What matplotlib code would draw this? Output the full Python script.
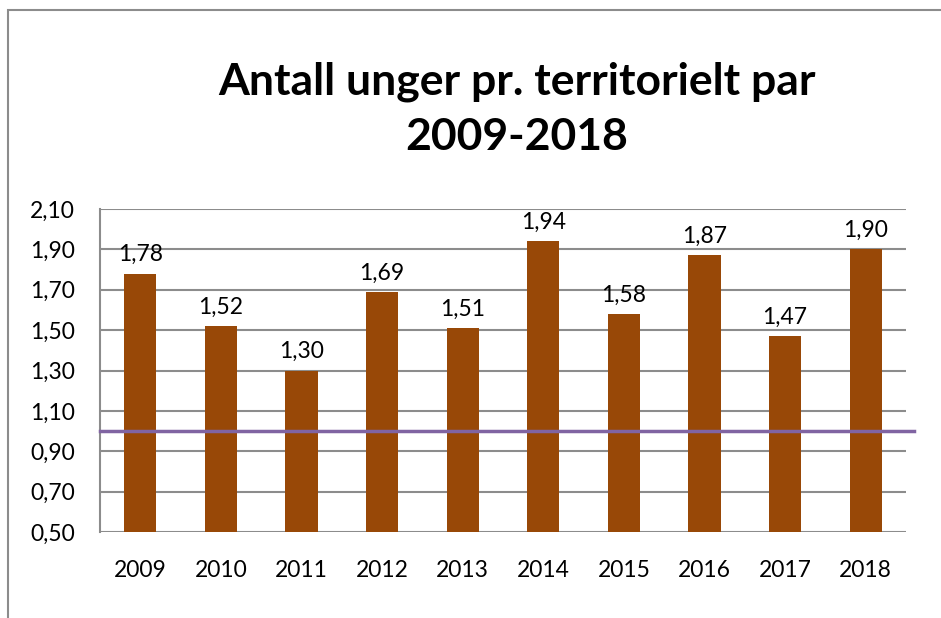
import matplotlib
matplotlib.use("Agg")
import matplotlib.pyplot as plt
from matplotlib.patches import Rectangle

years = ["2009", "2010", "2011", "2012", "2013", "2014", "2015", "2016", "2017", "2018"]
unger = [1.78, 1.52, 1.30, 1.69, 1.51, 1.94, 1.58, 1.87, 1.47, 1.90]
ref_level = 1.00
y_ticks = [0.50, 0.70, 0.90, 1.10, 1.30, 1.50, 1.70, 1.90, 2.10]

plt.rcParams['font.family'] = ['Lato', 'DejaVu Sans']

fig = plt.figure(figsize=(9.41, 6.18), dpi=100)
W, H = 941, 618
ax = fig.add_axes([100 / W, 1 - 532 / H, (906 - 100) / W, (532 - 209) / H])

# outer chart frame
fig.patches.append(Rectangle((8 / W, -0.1), 1.2, 1 - 10 / H + 0.1,
                             transform=fig.transFigure, fill=False,
                             edgecolor="#8c8c8c", linewidth=1.5))

x = range(len(years))
bars = ax.bar(x, unger, width=0.4, bottom=0, color="#984807", zorder=3)
ax.set_xlim(-0.5, len(years) - 0.5)
ax.set_ylim(0.5, 2.1)

for xi, v in zip(x, unger):
    ax.annotate(("%.2f" % v).replace(".", ","), (xi, v), xytext=(0, 6),
                textcoords="offset points", ha="center", va="bottom", fontsize=16.5)

ax.axhline(ref_level, xmin=0, xmax=1.01, color="#8064A2", linewidth=2.5,
           zorder=4, clip_on=False)

ax.set_yticks(y_ticks)
ax.set_yticklabels([("%.2f" % t).replace(".", ",") for t in y_ticks])
ax.set_xticks(list(x))
ax.set_xticklabels(years)
ax.tick_params(axis="both", length=0, labelsize=16.5)
ax.tick_params(axis="y", pad=18)
ax.tick_params(axis="x", pad=20)
ax.grid(axis="y", color="#8c8c8c", linewidth=1.5, zorder=0)

for side in ["top", "right", "bottom"]:
    ax.spines[side].set_visible(False)
ax.spines["left"].set_color("#8c8c8c")
ax.spines["left"].set_linewidth(1.5)

fig.text(517 / W, 1 - 109 / H, "Antall unger pr. territorielt par\n2009-2018",
         ha="center", va="center", fontsize=32, fontweight="bold", linespacing=1.45)

fig.savefig("out.png", dpi=100)
